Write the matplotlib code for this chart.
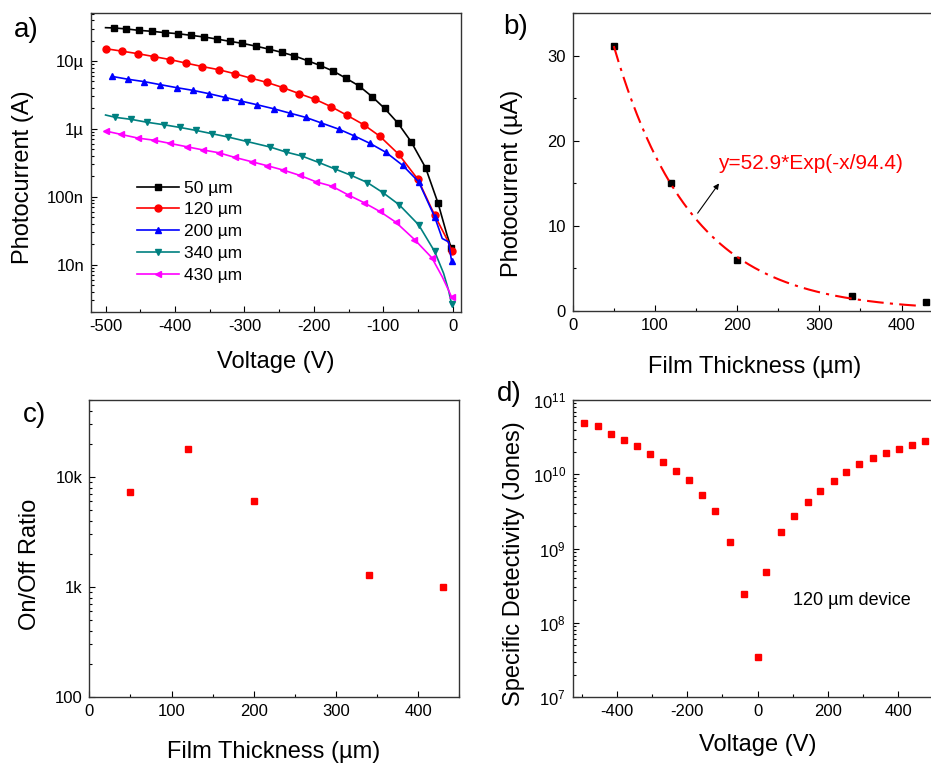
import matplotlib
matplotlib.use("Agg")
import matplotlib.pyplot as plt
import matplotlib.ticker as ticker
import numpy as np

plt.rcParams['font.family'] = ['Liberation Sans', 'DejaVu Sans']
plt.rcParams['mathtext.default'] = 'regular'
plt.rcParams['axes.linewidth'] = 1.0
plt.rcParams['axes.unicode_minus'] = False

# ---- panel a: photocurrent vs voltage for each film thickness ----
thickness_labels = ["50 \u00b5m", "120 \u00b5m", "200 \u00b5m", "340 \u00b5m", "430 \u00b5m"]

v_50 = [-500, -488, -470, -452, -433, -415, -396, -377, -358, -340, -321, -303, -284, -265,
        -246, -228, -209, -191, -172, -154, -135, -116, -98, -79, -60, -39, -21, -8, -2]
i_50 = [31e-6, 30.7e-6, 29.7e-6, 28.3e-6, 27.4e-6, 26.2e-6, 25.3e-6, 23.9e-6, 22.6e-6, 21.1e-6,
        19.5e-6, 18.2e-6, 16.6e-6, 15.0e-6, 13.4e-6, 11.9e-6, 10.1e-6, 8.6e-6, 7.1e-6, 5.6e-6,
        4.3e-6, 2.98e-6, 2.0e-6, 1.22e-6, 0.65e-6, 0.267e-6, 80e-9, 27e-9, 17.5e-9]
skip_50 = [0, 27]

v_120 = [-500, -477, -453, -430, -407, -384, -361, -337, -314, -291, -268, -244, -221, -198,
         -175, -152, -128, -105, -78, -50, -26, -8, -1.5]
i_120 = [15.2e-6, 14.0e-6, 12.8e-6, 11.6e-6, 10.5e-6, 9.3e-6, 8.3e-6, 7.45e-6, 6.5e-6, 5.6e-6,
         4.85e-6, 4.04e-6, 3.3e-6, 2.72e-6, 2.12e-6, 1.58e-6, 1.15e-6, 0.78e-6, 0.425e-6,
         0.18e-6, 53.5e-9, 23.4e-9, 16e-9]
skip_120 = [21]

v_200 = [-491, -467, -444, -421, -397, -374, -351, -328, -305, -282, -258, -235, -212, -189,
         -164, -142, -119, -96, -72, -49, -26, -15, -6, -1.5]
i_200 = [5.94e-6, 5.37e-6, 4.96e-6, 4.48e-6, 4.04e-6, 3.69e-6, 3.30e-6, 2.91e-6, 2.57e-6, 2.27e-6,
         1.98e-6, 1.71e-6, 1.48e-6, 1.22e-6, 0.99e-6, 0.79e-6, 0.61e-6, 0.45e-6, 0.29e-6,
         0.166e-6, 50.6e-9, 24.2e-9, 21.6e-9, 11.2e-9]
skip_200 = [21, 22]

v_340 = [-500, -486, -463, -440, -416, -393, -370, -347, -324, -296, -263, -240, -217, -193,
         -169, -147, -123, -100, -77, -49, -26, -13, -6, -1.5]
i_340 = [1.60e-6, 1.48e-6, 1.38e-6, 1.25e-6, 1.15e-6, 1.05e-6, 0.95e-6, 0.85e-6, 0.76e-6,
         0.65e-6, 0.54e-6, 0.455e-6, 0.397e-6, 0.32e-6, 0.255e-6, 0.208e-6, 0.162e-6, 0.114e-6,
         76e-9, 38.5e-9, 15.6e-9, 7.4e-9, 4.2e-9, 2.6e-9]
skip_340 = [0, 21, 22]

v_430 = [-500, -478, -453, -430, -407, -383, -360, -337, -314, -289, -267, -244, -220, -197,
         -174, -151, -128, -105, -82, -55, -30, -15, -6, -1.5]
i_430 = [0.93e-6, 0.83e-6, 0.73e-6, 0.68e-6, 0.61e-6, 0.545e-6, 0.49e-6, 0.445e-6, 0.38e-6,
         0.327e-6, 0.286e-6, 0.247e-6, 0.206e-6, 0.166e-6, 0.143e-6, 0.107e-6, 82e-9, 60.7e-9,
         42.2e-9, 23.4e-9, 12.6e-9, 6.6e-9, 4.2e-9, 3.3e-9]
skip_430 = [21, 22]

# ---- panel b: photocurrent at -500 V vs thickness, with exponential fit ----
thickness = [50, 120, 200, 340, 430]
photocurrent_ua = [31.2, 15.0, 6.05, 1.72, 1.02]
fit_amp = 52.9
fit_decay = 94.4
fit_text = "y=52.9*Exp(-x/94.4)"

# ---- panel c: on/off ratio vs thickness ----
on_off_ratio = [7.3e3, 18.1e3, 6.05e3, 1.28e3, 1.0e3]

# ---- panel d: specific detectivity of the 120 um device ----
det_voltage = [-492, -453, -417, -379, -342, -306, -269, -232, -195, -157, -121, -79, -38, 0,
               25, 68, 104, 142, 178, 216, 252, 289, 327, 364, 401, 438, 475]
detectivity = [4.85e10, 4.47e10, 3.48e10, 2.89e10, 2.38e10, 1.87e10, 1.45e10, 1.12e10, 8.4e9,
               5.2e9, 3.17e9, 1.22e9, 2.44e8, 3.42e7, 4.88e8, 1.67e9, 2.77e9, 4.19e9, 5.89e9,
               8.1e9, 1.07e10, 1.37e10, 1.64e10, 1.95e10, 2.19e10, 2.5e10, 2.78e10]

W, H = 931, 763
fig = plt.figure(figsize=(W / 100, H / 100), dpi=100)


def px_axes(left, top, right, bottom):
    return fig.add_axes([left / W, 1 - bottom / H, (right - left) / W, (bottom - top) / H])


def style(ax):
    ax.tick_params(which="both", direction="in", top=False, right=False,
                   labelsize=12, width=0.8, pad=5)
    ax.tick_params(which="major", length=4)
    ax.tick_params(which="minor", length=2)
    for s in ax.spines.values():
        s.set_color("#333333")


def place_labels(ax, xpos, ypos):
    ax.xaxis.set_label_coords(*xpos)
    ax.xaxis.label.set_va("center")
    ax.yaxis.set_label_coords(*ypos)
    ax.yaxis.label.set_va("center")


label_fs = 17

# panel a
ax_a = px_axes(91, 13, 461, 312)
series = [
    (v_50, i_50, skip_50, "black", "s"),
    (v_120, i_120, skip_120, "red", "o"),
    (v_200, i_200, skip_200, "#0000ff", "^"),
    (v_340, i_340, skip_340, "#008080", "v"),
    (v_430, i_430, skip_430, "#ff00ff", "<"),
]
for (v, cur, skip, color, marker), lab in zip(series, thickness_labels):
    marks = [k for k in range(len(v)) if k not in skip]
    ax_a.plot(v, cur, color=color, marker=marker, markersize=5, markevery=marks,
              linewidth=1.2, label=lab)
ax_a.set_yscale("log")
ax_a.set_xlim(-521, 12)
ax_a.set_ylim(2e-9, 5.1e-5)
ax_a.xaxis.set_major_locator(ticker.MultipleLocator(100))
ax_a.xaxis.set_minor_locator(ticker.MultipleLocator(50))
ax_a.yaxis.set_major_locator(ticker.FixedLocator([1e-8, 1e-7, 1e-6, 1e-5]))
ax_a.yaxis.set_major_formatter(ticker.FixedFormatter(["10n", "100n", "1\u00b5", "10\u00b5"]))
ax_a.yaxis.set_minor_locator(ticker.LogLocator(base=10, subs=np.arange(2, 10), numticks=20))
ax_a.yaxis.set_minor_formatter(ticker.NullFormatter())
style(ax_a)
ax_a.set_xlabel("Voltage (V)", fontsize=label_fs)
ax_a.set_ylabel("Photocurrent (A)", fontsize=label_fs)
place_labels(ax_a, (0.5, -0.167), (-0.184, 0.45))
ax_a.legend(loc="upper left", bbox_to_anchor=(0.124, 0.44), frameon=False, fontsize=12.5,
            handlelength=2.4, handletextpad=0.3, labelspacing=0.38, borderpad=0,
            borderaxespad=0)

# panel b
ax_b = px_axes(572.7, 13.3, 942.6, 311)
ax_b.plot(thickness, photocurrent_ua, "s", color="black", markersize=5, zorder=2)
xf = np.linspace(thickness[0], 425, 200)
ax_b.plot(xf, fit_amp * np.exp(-xf / fit_decay), color="red", linewidth=1.5,
          dashes=(8, 3, 1.5, 3), zorder=3)
ax_b.set_xlim(0, 450)
ax_b.set_ylim(0, 35)
ax_b.xaxis.set_major_locator(ticker.MultipleLocator(100))
ax_b.xaxis.set_minor_locator(ticker.MultipleLocator(50))
ax_b.yaxis.set_major_locator(ticker.MultipleLocator(10))
ax_b.yaxis.set_minor_locator(ticker.MultipleLocator(5))
style(ax_b)
ax_b.text(177, 17.4, fit_text, color="red", fontsize=15, va="center", ha="left")
ax_b.annotate("", xy=(178, 15.0), xytext=(152, 11.5),
              arrowprops=dict(arrowstyle="-|>", color="black", lw=0.8,
                              mutation_scale=8, shrinkA=0, shrinkB=0))
ax_b.set_xlabel("Film Thickness (\u00b5m)", fontsize=label_fs)
ax_b.set_ylabel("Photocurrent (\u00b5A)", fontsize=label_fs)
place_labels(ax_b, (0.493, -0.188), (-0.165, 0.43))

# panel c
ax_c = px_axes(89.3, 400, 459.3, 697)
ax_c.plot(thickness, on_off_ratio, "s", color="red", markersize=4.5)
ax_c.set_yscale("log")
ax_c.set_xlim(0, 450)
ax_c.set_ylim(100, 5e4)
ax_c.xaxis.set_major_locator(ticker.MultipleLocator(100))
ax_c.xaxis.set_minor_locator(ticker.MultipleLocator(50))
ax_c.yaxis.set_major_locator(ticker.FixedLocator([100, 1e3, 1e4]))
ax_c.yaxis.set_major_formatter(ticker.FixedFormatter(["100", "1k", "10k"]))
ax_c.yaxis.set_minor_locator(ticker.LogLocator(base=10, subs=np.arange(2, 10), numticks=20))
ax_c.yaxis.set_minor_formatter(ticker.NullFormatter())
style(ax_c)
ax_c.set_xlabel("Film Thickness (\u00b5m)", fontsize=label_fs)
ax_c.set_ylabel("On/Off Ratio", fontsize=label_fs)
place_labels(ax_c, (0.497, -0.185), (-0.16, 0.448))

# panel d
ax_d = px_axes(572.7, 400, 942.4, 697)
ax_d.plot(det_voltage, detectivity, "s", color="red", markersize=4.5)
ax_d.set_yscale("log")
ax_d.set_xlim(-525, 525)
ax_d.set_ylim(1e7, 1e11)
ax_d.xaxis.set_major_locator(ticker.MultipleLocator(200))
ax_d.xaxis.set_minor_locator(ticker.MultipleLocator(100))
ax_d.yaxis.set_major_locator(ticker.LogLocator(base=10, numticks=10))
ax_d.yaxis.set_major_formatter(ticker.LogFormatterMathtext())
ax_d.yaxis.set_minor_locator(ticker.LogLocator(base=10, subs=np.arange(2, 10), numticks=20))
ax_d.yaxis.set_minor_formatter(ticker.NullFormatter())
style(ax_d)
ax_d.text(102, 2.0e8, "120 \u00b5m device", fontsize=13, va="center", ha="left")
ax_d.set_xlabel("Voltage (V)", fontsize=label_fs)
ax_d.set_ylabel("Specific Detectivity (Jones)", fontsize=label_fs)
place_labels(ax_d, (0.5, -0.162), (-0.16, 0.45))

# panel letters
for letter, x, y in [("a)", 26, 30), ("b)", 516, 27), ("c)", 34, 415), ("d)", 509, 394)]:
    fig.text(x / W, 1 - y / H, letter, fontsize=20, ha="center", va="center")

fig.savefig("out.png", dpi=100)
